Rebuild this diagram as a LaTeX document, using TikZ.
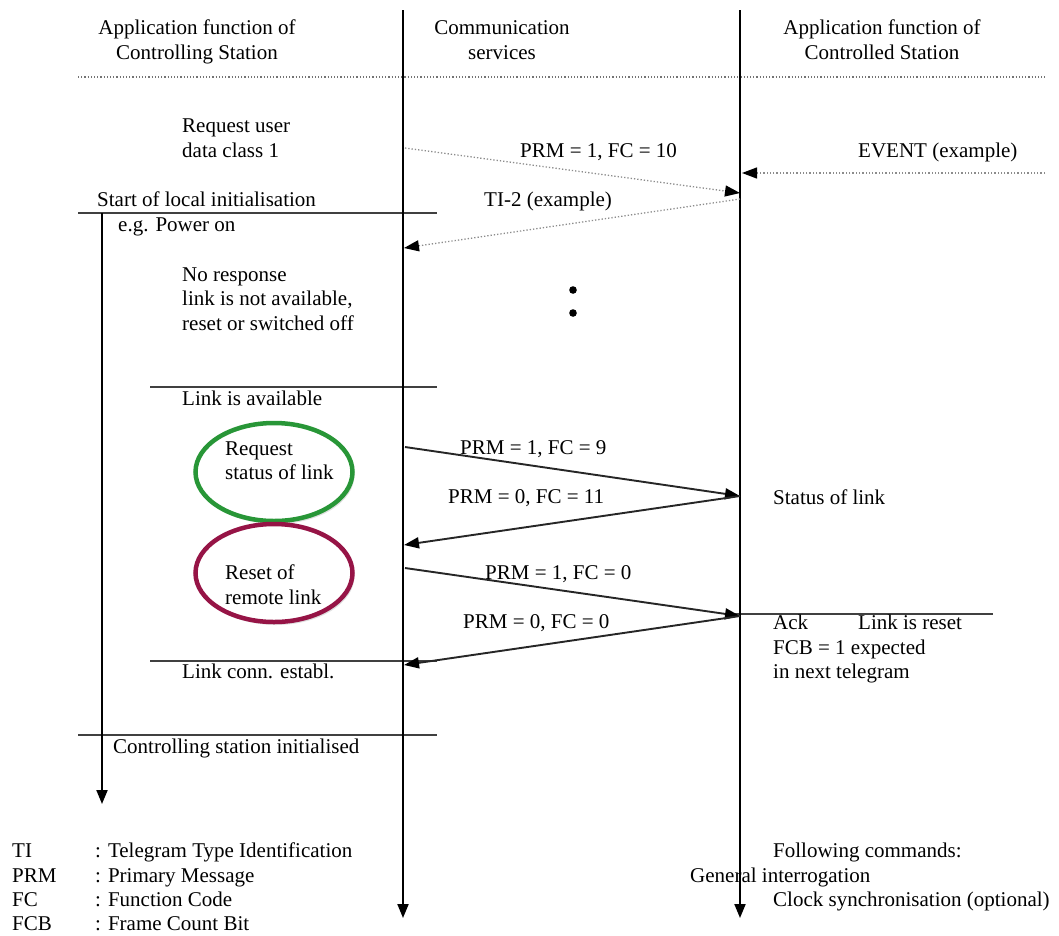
\documentclass[tikz,border=0pt]{standalone}
\usepackage{fontspec}
\setmainfont{Liberation Serif}
\usetikzlibrary{arrows.meta,shadows,shapes.geometric}
\definecolor{ellgreen}{RGB}{40,150,55}
\definecolor{ellred}{RGB}{150,20,70}
\begin{document}
\begin{tikzpicture}[x=1pt,y=-1pt,
  txt/.style={anchor=base west,inner sep=0pt,font=\fontsize{21}{25}\selectfont},
  ctxt/.style={txt,anchor=base},
  life/.style={line width=2pt,black,-{Triangle[length=14pt,width=11pt]}},
  msg/.style={line width=1.9pt,black!85,-{Triangle[length=15pt,width=11pt,black]}},
  dmsg/.style={line width=1.3pt,black!45,dotted,-{Triangle[length=15pt,width=11pt,black]}},
  sepline/.style={line width=1.9pt,black!75},
  ell/.style={ellipse,line width=4.5pt,minimum width=157pt,minimum height=98pt,
    drop shadow={opacity=0.25,shadow xshift=2pt,shadow yshift=-3pt},fill=white}
]
\useasboundingbox (0,0) rectangle (1059,935);

% lifelines
\coordinate (l1top) at (403,10);
\coordinate (l1bot) at (403,918);
\coordinate (l2top) at (740,10);
\coordinate (l2bot) at (740,918);
\coordinate (l0top) at (102,213);
\coordinate (l0bot) at (102,804);

% header
\node[ctxt] (h1a) at (197,34) {Application function of};
\node[ctxt] (h1b) at (197,59) {Controlling Station};
\node[ctxt] (h2a) at (502,34) {Communication};
\node[ctxt] (h2b) at (502,59) {services};
\node[ctxt] (h3a) at (882,34) {Application function of};
\node[ctxt] (h3b) at (882,59) {Controlled Station};
\coordinate (dl) at (78,77);
\coordinate (dr) at (1045,77);
\draw[black!55,dotted,line width=1.2pt] (dl) -- (dr);

% ellipses
\node[ell,draw=ellgreen] (eg) at (274,472) {};
\node[ell,draw=ellred] (er) at (274,573) {};

% separator lines
\coordinate (s1l) at (78,213);   \coordinate (s1r) at (437,213);
\coordinate (s2l) at (150,387);  \coordinate (s2r) at (437,387);
\coordinate (s3l) at (150,661);  \coordinate (s3r) at (437,661);
\coordinate (s4l) at (78,735);   \coordinate (s4r) at (437,735);
\coordinate (s5l) at (725,614);  \coordinate (s5r) at (993,614);
\draw[sepline] (s1l) -- (s1r);
\draw[sepline] (s2l) -- (s2r);
\draw[sepline] (s3l) -- (s3r);
\draw[sepline] (s4l) -- (s4r);
\draw[sepline] (s5l) -- (s5r);

\draw[life] (l1top) -- (l1bot);
\draw[life] (l2top) -- (l2bot);
\draw[life] (l0top) -- (l0bot);

% messages
\coordinate (m1a) at (405,148); \coordinate (m1b) at (740,193);
\coordinate (m2a) at (740,199); \coordinate (m2b) at (404,248);
\coordinate (eva) at (1045,173); \coordinate (evb) at (742,173);
\draw[dmsg] (m1a) -- (m1b);
\draw[dmsg] (m2a) -- (m2b);
\draw[dmsg] (eva) -- (evb);

\coordinate (p1a) at (405,447); \coordinate (p1b) at (740,496);
\coordinate (p2a) at (740,496); \coordinate (p2b) at (404,545);
\coordinate (p3a) at (405,568); \coordinate (p3b) at (740,616);
\coordinate (p4a) at (740,616); \coordinate (p4b) at (404,665);
\draw[msg] (p1a) -- (p1b);
\draw[msg] (p2a) -- (p2b);
\draw[msg] (p3a) -- (p3b);
\draw[msg] (p4a) -- (p4b);

% dots
\fill (573,290) circle (3.8pt);
\fill (573,313) circle (3.8pt);

% texts
\node[txt] (t1a) at (182,132) {Request user};
\node[txt] (t1b) at (182,157) {data class 1};
\node[txt] (lm1) at (520,157) {PRM = 1, FC = 10};
\node[txt] (ev) at (858,157) {EVENT (example)};
\node[txt] (st) at (97,206) {Start of local initialisation};
\node[txt] (ti2) at (484,206) {TI-2 (example)};
\node[txt] (pw) at (118,231) {e.g. Power on};
\node[txt] (nr1) at (182,281) {No response};
\node[txt] (nr2) at (182,305) {link is not available,};
\node[txt] (nr3) at (182,330) {reset or switched off};
\node[txt] (la) at (182,405) {Link is available};
\node[txt] (rq1) at (225,455) {Request};
\node[txt] (rq2) at (225,479) {status of link};
\node[txt] (lp1) at (460,454) {PRM = 1, FC = 9};
\node[txt] (lp2) at (448,503) {PRM = 0, FC = 11};
\node[txt] (sl) at (773,504) {Status of link};
\node[txt] (rs1) at (225,579) {Reset of};
\node[txt] (rs2) at (225,604) {remote link};
\node[txt] (lp3) at (485,579) {PRM = 1, FC = 0};
\node[txt] (lp4) at (463,628) {PRM = 0, FC = 0};
\node[txt] (ack) at (773,629) {Ack};
\node[txt] (lr) at (858,629) {Link is reset};
\node[txt] (fcb) at (773,654) {FCB = 1 expected};
\node[txt] (nt) at (773,678) {in next telegram};
\node[txt] (lc) at (182,678) {Link conn. establ.};
\node[txt] (ci) at (113,753) {Controlling station initialised};

% legend
\node[txt] (k1) at (12,857) {TI};
\node[txt] (v1) at (95,857) {: Telegram Type Identification};
\node[txt] (k2) at (12,882) {PRM};
\node[txt] (v2) at (95,882) {: Primary Message};
\node[txt] (k3) at (12,906) {FC};
\node[txt] (v3) at (95,906) {: Function Code};
\node[txt] (k4) at (12,930) {FCB};
\node[txt] (v4) at (95,930) {: Frame Count Bit};

\node[txt] (fc1) at (773,857) {Following commands:};
\node[txt] (fc2) at (690,882) {General interrogation};
\node[txt] (fc3) at (773,906) {Clock synchronisation (optional)};
\end{tikzpicture}
\end{document}
